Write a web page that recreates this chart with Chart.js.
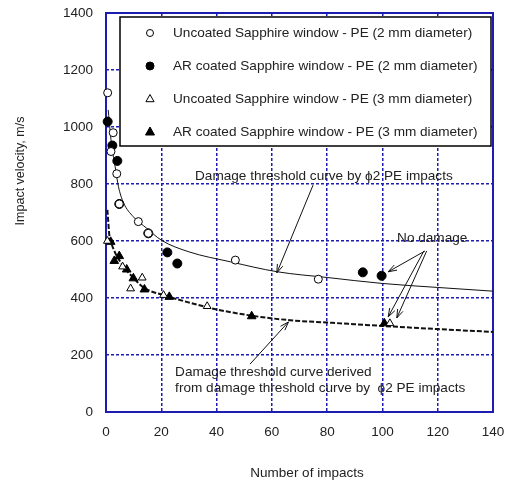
<!DOCTYPE html>
<html>
<head>
<meta charset="utf-8">
<script src="https://cdn.jsdelivr.net/npm/chart.js@4.4.0/dist/chart.umd.min.js"></script>
<style>
html, body { margin: 0; padding: 0; background: #fff; }
</style>
</head>
<body>
<canvas id="chart" width="511" height="484"></canvas>
<script>
// values (x = number of impacts, y = impact velocity m/s)
const uncoated2mm = [[0.6,1120],[1.8,914],[2.6,980],[3.9,836],[4.8,730],[11.7,668],[15.3,627],[46.8,533],[76.8,466]];
const coated2mm = [[0.6,1019],[2.3,935],[4.1,881],[4.8,730],[15.3,627],[22.2,560],[25.8,521],[92.9,490],[99.7,478]];
const uncoated3mm = [[0.5,600],[6,510],[8.9,433],[13.1,471],[20.8,410],[36.6,371],[102.7,311]];
const coated3mm = [[1.7,597],[3,530],[4.8,547],[7.5,500],[9.9,469],[13.9,430],[22.9,404],[52.7,336],[100.7,311]];

const curve2mm = [[0.8,1060],[1.5,985],[2.1,931],[3.3,861],[4.5,791],[6.3,735],[9.9,685],[14.7,645],[20,603],[30,562],[45,527],[62,492],[80,472],[100,451],[120,437],[140,424]];
const curveDerived = [[0.5,709],[1.3,612],[2,590],[3.5,555],[5,530],[7.5,496],[10,470],[13.5,437],[20.8,410],[29,387],[40,360],[52.7,338],[66.6,322],[80,314],[100,302],[120,291],[140,281]];

const xTicks = [0, 20, 40, 60, 80, 100, 120, 140];
const yTicks = [0, 200, 400, 600, 800, 1000, 1200, 1400];

const seriesNames = [
    'Uncoated Sapphire window - PE (2 mm diameter)',
    'AR coated Sapphire window - PE (2 mm diameter)',
    'Uncoated Sapphire window - PE (3 mm diameter)',
    'AR coated Sapphire window - PE (3 mm diameter)'
];

const FONT = '"Liberation Sans", Arial, sans-serif';
const BLUE = '#1c1cb0';
const TXT = '#222';

function pts(arr) {
    return arr.map(p => ({ x: p[0], y: p[1] }));
}

// helpers for the drawn extras
function arrow(ctx, x1, y1, x2, y2) {
    const a = Math.atan2(y2 - y1, x2 - x1);
    const len = 9, spread = 0.33;
    ctx.beginPath();
    ctx.moveTo(x1, y1);
    ctx.lineTo(x2, y2);
    ctx.moveTo(x2 - len * Math.cos(a - spread), y2 - len * Math.sin(a - spread));
    ctx.lineTo(x2, y2);
    ctx.lineTo(x2 - len * Math.cos(a + spread), y2 - len * Math.sin(a + spread));
    ctx.stroke();
}

const extras = {
    id: 'extras',
    beforeDatasetsDraw(chart) {
        const ctx = chart.ctx, a = chart.chartArea;
        ctx.save();
        ctx.strokeStyle = BLUE;
        ctx.lineWidth = 2;
        ctx.strokeRect(a.left, a.top, a.right - a.left, a.bottom - a.top);
        ctx.restore();
    },
    afterDraw(chart) {
        const ctx = chart.ctx, a = chart.chartArea;
        const xs = chart.scales.x, ys = chart.scales.y;
        const px = v => xs.getPixelForValue(v);
        const py = v => ys.getPixelForValue(v);

        ctx.save();
        // legend box
        const lx = a.left + 14, ly = a.top + 4, lw = 371, lh = 129;
        ctx.fillStyle = '#fff';
        ctx.fillRect(lx, ly, lw, lh);
        ctx.strokeStyle = '#000';
        ctx.lineWidth = 1.5;
        ctx.strokeRect(lx, ly, lw, lh);
        ctx.font = '13.6px ' + FONT;
        ctx.textBaseline = 'middle';
        chart.data.datasets.slice(0, 4).forEach((ds, i) => {
            const cy = ly + 16 + i * 33;
            const cx = lx + 30;
            ctx.fillStyle = ds.backgroundColor;
            ctx.strokeStyle = '#000';
            ctx.lineWidth = 1;
            ctx.beginPath();
            if (ds.pointStyle === 'triangle') {
                const r = ds.pointRadius;
                ctx.moveTo(cx, cy - r);
                ctx.lineTo(cx + r * 0.9, cy + r * 0.6);
                ctx.lineTo(cx - r * 0.9, cy + r * 0.6);
                ctx.closePath();
            } else {
                ctx.arc(cx, cy, ds.pointRadius - 0.5, 0, Math.PI * 2);
            }
            ctx.fill();
            ctx.stroke();
            ctx.fillStyle = TXT;
            ctx.fillText(ds.label, lx + 53, cy);
        });

        // annotations
        ctx.fillStyle = TXT;
        ctx.font = '13.6px ' + FONT;
        ctx.textBaseline = 'middle';
        ctx.fillText('Damage threshold curve by \u03d52 PE impacts', px(32.2), py(828));
        ctx.fillText('No damage', px(105.3), py(610));
        ctx.fillText('Damage threshold curve derived', px(25), py(139.5));
        ctx.fillText('from damage threshold curve by  \u03d52 PE impacts', px(25), py(83));

        ctx.strokeStyle = '#111';
        ctx.lineWidth = 1;
        arrow(ctx, px(74.9), py(796), px(61.8), py(488));
        arrow(ctx, px(115.4), py(565), px(102.1), py(492));
        arrow(ctx, px(115), py(565), px(102.1), py(334));
        arrow(ctx, px(116), py(565), px(105.2), py(330));
        arrow(ctx, px(52.1), py(168), px(66), py(316));

        // axis titles
        ctx.textAlign = 'center';
        ctx.font = '13.5px ' + FONT;
        ctx.fillText('Number of impacts', 307, 473);
        ctx.font = '12.5px ' + FONT;
        ctx.translate(21, 171);
        ctx.rotate(-Math.PI / 2);
        ctx.fillText('Impact velocity, m/s', 0, 0);
        ctx.restore();
    }
};

new Chart(document.getElementById('chart').getContext('2d'), {
    type: 'scatter',
    data: {
        datasets: [
            { label: seriesNames[0], data: pts(uncoated2mm), pointStyle: 'circle', pointRadius: 4,
              backgroundColor: '#fff', borderColor: '#000', borderWidth: 1, clip: false },
            { label: seriesNames[1], data: pts(coated2mm), pointStyle: 'circle', pointRadius: 4.5,
              backgroundColor: '#000', borderColor: '#000', borderWidth: 1, clip: false },
            { label: seriesNames[2], data: pts(uncoated3mm), pointStyle: 'triangle', pointRadius: 4.5,
              backgroundColor: '#fff', borderColor: '#000', borderWidth: 1, clip: false },
            { label: seriesNames[3], data: pts(coated3mm), pointStyle: 'triangle', pointRadius: 5,
              backgroundColor: '#000', borderColor: '#000', borderWidth: 1, clip: false },
            { label: 'curve 2mm', data: pts(curve2mm), showLine: true, pointRadius: 0,
              borderColor: '#111', borderWidth: 1, cubicInterpolationMode: 'monotone', order: 5 },
            { label: 'curve derived', data: pts(curveDerived), showLine: true, pointRadius: 0,
              borderColor: '#111', borderWidth: 2, borderDash: [5, 2], cubicInterpolationMode: 'monotone', order: 5 }
        ]
    },
    options: {
        responsive: false,
        animation: false,
        layout: { padding: { top: 13, right: 18, left: 0, bottom: 0 } },
        plugins: { legend: { display: false }, tooltip: { enabled: false } },
        scales: {
            x: {
                min: 0, max: 140,
                afterBuildTicks: s => { s.ticks = xTicks.map(v => ({ value: v })); },
                afterFit: s => { s.height = 72; s.paddingLeft = 0; s.paddingRight = 0; },
                grid: { color: BLUE, lineWidth: 1.5, drawTicks: false },
                border: { display: false, dash: [3, 2] },
                ticks: { padding: 12, color: TXT, font: { family: FONT, size: 13.5 },
                         callback: v => String(v) }
            },
            y: {
                min: 0, max: 1400,
                afterBuildTicks: s => { s.ticks = yTicks.map(v => ({ value: v })); },
                afterFit: s => { s.width = 106; s.paddingTop = 0; s.paddingBottom = 0; },
                grid: { color: BLUE, lineWidth: 1.5, drawTicks: false },
                border: { display: false, dash: [3, 2] },
                ticks: { padding: 13, color: TXT, font: { family: FONT, size: 13.5 },
                         callback: v => String(v) }
            }
        }
    },
    plugins: [extras]
});
</script>
</body>
</html>
